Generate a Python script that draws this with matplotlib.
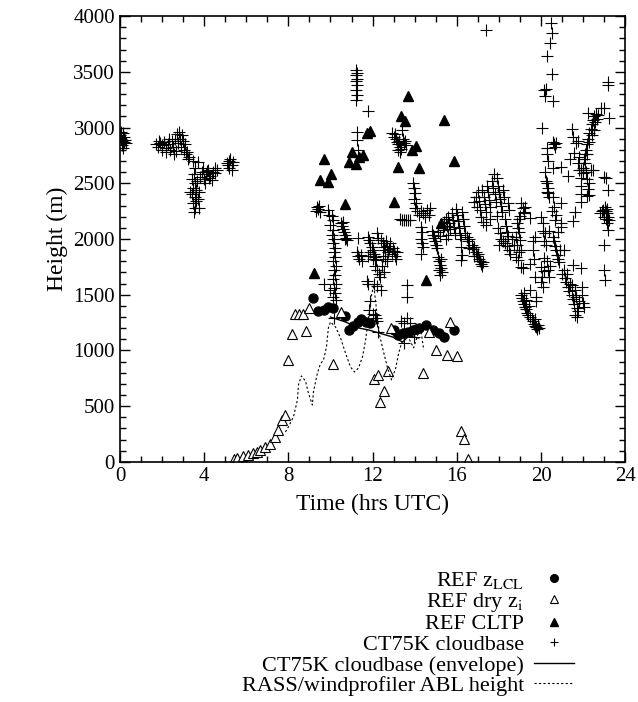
import matplotlib
matplotlib.use("Agg")
import matplotlib.pyplot as plt
import numpy as np

plt.rcParams['font.family'] = ['Liberation Serif', 'DejaVu Serif']
plt.rcParams['mathtext.fontset'] = 'stix'

# REF z_LCL (time in hrs UTC, height in m)
lcl_t = [9.19, 9.43, 9.67, 9.9, 10.1, 10.67, 10.86, 11.05, 11.29, 11.43, 11.67, 11.9,
         13.0, 13.19, 13.43, 13.67, 13.9, 14.05, 14.19, 14.52, 14.86, 15.14, 15.38, 15.86]
lcl_h = [1471, 1354, 1363, 1390, 1381, 1310, 1184, 1220, 1256, 1283, 1256, 1247,
         1184, 1139, 1157, 1166, 1184, 1193, 1202, 1229, 1184, 1157, 1121, 1184]

# REF dry z_i
dry_t = [5.40, 5.56, 5.86, 6.10, 6.33, 6.52, 6.67, 6.90, 7.14, 7.38, 7.52, 7.71, 7.86,
         8.0, 8.19, 8.33, 8.52, 8.71, 8.86, 9.0, 10.14, 10.48, 12.05, 12.24, 12.71,
         12.52, 12.33, 12.86, 14.38, 14.67, 15.0, 15.52, 16.0, 15.67, 16.19, 16.33, 16.52]
dry_h = [24, 36, 54, 63, 81, 90, 108, 135, 161, 224, 287, 377, 422,
         915, 1148, 1328, 1328, 1328, 1175, 1381, 879, 1346, 745, 780, 816,
         637, 538, 1202, 798, 1166, 1005, 960, 951, 1256, 278, 206, 27]

# REF CLTP
cltp_t = [9.21, 9.52, 9.68, 9.87, 10.03, 10.68, 10.87, 11.03, 11.19, 11.35, 11.56, 11.75,
          11.87, 13.02, 13.21, 13.37, 13.54, 13.70, 13.86, 14.05, 14.20, 14.54, 15.24,
          15.37, 15.87]
cltp_h = [1693, 2530, 2715, 2514, 2581, 2314, 2688, 2783, 2670, 2739, 2754, 2948,
          2969, 2329, 2649, 3106, 3059, 3286, 2799, 2835, 2640, 1633, 2147,
          3068, 2703]

# CT75K cloudbase envelope
env_t = [10.0, 10.71, 11.33, 11.81, 12.14, 12.95, 13.43, 13.71, 14.19]
env_h = [1300, 1256, 1202, 1184, 1166, 1121, 1076, 1130, 1112]

# RASS / windprofiler ABL height
rass_t = [7.86, 8.0, 8.24, 8.43, 8.48, 8.62, 8.81, 8.95, 9.14, 9.19, 9.38, 9.52, 9.67,
          9.81, 9.90, 10.0, 10.24, 10.48, 10.71, 10.95, 11.14, 11.33, 11.52, 11.67,
          11.76, 11.86, 11.95, 12.05, 12.19, 12.33, 12.52, 12.71, 12.90, 13.10, 13.24,
          13.38, 13.57, 13.76, 13.95, 14.14, 14.29, 14.43]
rass_h = [269, 314, 404, 556, 691, 771, 727, 619, 511, 628, 798, 879, 915,
          1032, 1202, 1256, 1211, 1112, 978, 852, 807, 843, 942, 1094,
          1229, 1363, 1498, 1588, 1363, 1139, 987, 843, 736, 843, 978,
          1067, 1130, 1094, 1023, 1139, 1184, 1005]

# CT75K cloudbase, [time, height] pairs, grouped by period
cb_morning = [
    [0.0, 2930], [0.05, 2900], [0.1, 2880], [0.15, 2950], [0.2, 2870], [0.1, 2840],
    [0.25, 2890], [0.3, 2860], [0.2, 2920], [0.05, 2960], [0.15, 2820],
    [1.7, 2850], [1.8, 2830], [1.9, 2860], [2.0, 2840], [2.1, 2870], [2.2, 2820],
    [2.3, 2850], [2.4, 2800], [2.45, 2880], [2.5, 2830], [2.6, 2900], [2.65, 2790],
    [2.7, 2940], [2.75, 2860], [2.8, 2960], [2.85, 2900], [2.9, 2830], [2.95, 2930],
    [3.0, 2880], [3.05, 2800], [3.1, 2850], [3.15, 2760], [3.2, 2780], [3.25, 2720],
    [3.3, 2740], [2.2, 2780], [2.55, 2760], [2.35, 2900], [2.0, 2800], [1.85, 2880],
    [3.45, 2700], [3.7, 2690], [3.55, 2640], [3.5, 2580], [3.4, 2540], [3.55, 2500],
    [3.45, 2460], [3.6, 2440], [3.4, 2400], [3.55, 2380], [3.6, 2340], [3.45, 2320],
    [3.55, 2280], [3.5, 2240], [3.75, 2280], [3.7, 2360], [3.35, 2420], [3.65, 2520],
    [3.75, 2420],
    [3.8, 2560], [3.9, 2600], [4.0, 2540], [4.1, 2580], [4.2, 2620], [4.3, 2570],
    [4.4, 2600], [4.5, 2640], [4.6, 2620], [4.35, 2530], [4.05, 2500], [3.95, 2640],
    [4.25, 2550], [4.5, 2590], [4.15, 2610],
    [5.1, 2680], [5.2, 2700], [5.3, 2660], [5.25, 2720], [5.35, 2690], [5.2, 2640],
    [5.3, 2620], [5.15, 2660],
]

cb_midday = [
    [9.35, 2290], [9.4, 2270], [9.3, 2250], [9.45, 2300], [9.5, 2240], [9.9, 2260],
    [9.95, 2220], [10.05, 2210], [10.1, 2170], [10.0, 2130], [10.1, 2080], [10.05, 2040],
    [10.15, 2000], [10.1, 1960], [10.2, 1920], [10.15, 1880], [10.2, 1840], [10.1, 1800],
    [10.25, 1760], [10.15, 1720], [10.2, 1680], [10.1, 1640], [10.25, 1600], [10.15, 1560],
    [10.2, 1520], [10.1, 1480], [10.25, 1450], [9.7, 1600], [10.15, 1290], [10.0, 1540],
    [10.5, 2140], [10.55, 2120], [10.6, 2090], [10.65, 2060], [10.7, 2040], [10.75, 2010],
    [10.8, 1990], [10.6, 2150], [10.7, 2000],
    [11.3, 2010], [11.25, 1880], [11.3, 1850], [11.35, 1820], [11.5, 1800], [11.45, 1860],
    [11.8, 2020], [11.85, 1990], [11.9, 1960], [11.95, 1930], [12.0, 1900], [12.05, 1870],
    [12.1, 1840], [12.2, 2050], [12.25, 2010], [12.15, 1810], [11.9, 1880], [12.0, 1820],
    [11.8, 1850], [12.1, 1760], [12.2, 1720], [12.3, 1690], [12.05, 1600], [12.4, 1540],
    [11.8, 1600], [11.9, 1440], [11.85, 1360], [12.0, 1330], [12.1, 1320], [12.2, 1260],
    [12.25, 1170], [12.15, 1290], [11.75, 1620], [12.2, 1580],
    [12.4, 1990], [12.5, 1960], [12.55, 1930], [12.6, 1900], [12.65, 1980], [12.7, 1940],
    [12.75, 1880], [12.8, 1910], [12.85, 1960], [12.9, 1870], [12.95, 1920], [13.0, 1890],
    [13.05, 1850], [13.1, 1820], [13.15, 1880], [12.5, 1850], [12.6, 1820], [12.7, 1800],
    [12.45, 1760], [12.55, 1700], [12.35, 1660],
    [11.2, 3520], [11.25, 3490], [11.2, 3470], [11.25, 3440], [11.2, 3420], [11.25, 3380],
    [11.2, 3340], [11.25, 3290], [11.2, 3250], [11.8, 3150], [11.27, 2960], [11.25, 2890],
    [11.3, 2800],
    [12.9, 2950], [13.0, 2920], [13.1, 2900], [13.15, 2870], [13.2, 2850], [13.25, 2880],
    [13.3, 2830], [13.4, 2980], [13.45, 2900], [13.5, 2860], [13.55, 2880], [13.6, 2840],
    [13.05, 2940], [13.35, 2810], [13.2, 2800], [13.3, 2780],
    [13.9, 2500], [13.95, 2460], [14.0, 2410], [13.95, 2360], [14.05, 2320], [14.0, 2280],
    [14.1, 2250], [14.2, 2220], [14.3, 2250], [14.4, 2230], [14.5, 2200], [14.6, 2260],
    [14.7, 2220], [14.75, 2280], [13.3, 2180], [13.4, 2170], [13.5, 2170], [13.6, 2170],
    [13.7, 2170], [13.8, 2170], [14.3, 2110], [14.35, 2060], [14.3, 2000], [14.35, 1960],
    [14.4, 1930], [14.3, 1870], [13.65, 1590], [13.65, 1480], [13.65, 1290], [13.5, 1250],
    [13.35, 1260], [13.5, 1070], [13.95, 1120], [13.8, 1250],
]

cb_afternoon = [
    [14.8, 2070], [14.85, 2040], [14.9, 2010], [14.95, 1980], [15.0, 1950], [15.05, 1920],
    [15.1, 2060], [15.2, 2030], [15.1, 1840], [15.15, 1800], [15.2, 1770], [15.25, 1740],
    [15.15, 1720], [15.3, 1700], [15.2, 1680], [15.25, 1820], [15.35, 2080], [15.4, 2120],
    [15.4, 2150], [15.5, 2180], [15.55, 2120], [15.6, 2200], [15.65, 2140], [15.7, 2090],
    [15.75, 2230], [15.8, 2170], [15.85, 2110], [15.9, 2050], [15.95, 2270], [16.0, 2220],
    [16.05, 2160], [16.1, 2100], [16.15, 2040], [16.2, 2000], [16.25, 2240], [16.3, 2180],
    [16.35, 2120], [15.6, 2040], [15.5, 2000], [16.2, 1930], [16.25, 1860], [16.2, 1810],
    [16.4, 2050], [16.5, 2020], [16.55, 1980], [16.6, 2000], [16.7, 1950], [16.75, 1910],
    [16.8, 1930], [16.9, 1880], [16.95, 1850], [17.0, 1870], [17.05, 1820], [17.1, 1800],
    [17.15, 1780], [17.2, 1760], [17.25, 1790], [16.6, 1920], [16.8, 1850],
    [16.8, 2330], [16.9, 2380], [16.95, 2290], [17.0, 2420], [17.05, 2340], [17.1, 2260],
    [17.15, 2200], [17.2, 2440], [17.3, 2380], [17.35, 2310], [17.4, 2240], [17.45, 2480],
    [17.5, 2420], [17.55, 2350], [17.6, 2290], [17.65, 2520], [17.7, 2460], [17.75, 2580],
    [17.8, 2400], [17.85, 2330], [17.9, 2550], [17.95, 2480], [18.0, 2420], [18.05, 2360],
    [18.1, 2300], [18.15, 2240], [18.2, 2440], [18.25, 2380], [18.3, 2180], [18.35, 2120],
    [18.4, 2060], [18.45, 2320], [18.5, 2260], [17.25, 2150], [17.6, 2180], [17.9, 2210],
    [17.4, 2130], [17.38, 3880],
    [17.95, 2100], [18.05, 2050], [18.1, 2000], [18.2, 1980], [18.3, 1960], [18.4, 1940],
    [18.5, 1900], [18.55, 1870], [18.6, 2000], [18.7, 1950], [18.8, 1840], [18.9, 1810],
    [18.0, 1950], [18.45, 2030],
]

cb_evening = [
    [19.05, 2320], [19.15, 2280], [19.2, 2240], [19.0, 2210], [18.95, 2180], [18.85, 2140],
    [18.9, 2100], [18.95, 2060], [18.8, 2020], [19.0, 1990], [18.85, 1950], [19.05, 1900],
    [18.95, 1880], [19.25, 2290], [19.2, 2230], [19.05, 1750],
    [19.05, 1500], [19.1, 1470], [19.15, 1440], [19.2, 1420], [19.25, 1390], [19.3, 1370],
    [19.35, 1340], [19.4, 1320], [19.5, 1300], [19.55, 1280], [19.6, 1260], [19.65, 1240],
    [19.7, 1220], [19.75, 1210], [19.8, 1190], [19.85, 1230], [19.9, 1200], [19.7, 1280],
    [19.45, 1400], [19.3, 1450], [19.2, 1520], [19.15, 1740],
    [19.5, 2190], [20.0, 2200], [20.1, 2140], [20.1, 2070], [19.6, 1980], [19.6, 1900],
    [19.5, 1780], [20.15, 1980], [20.15, 1830], [20.15, 1710], [20.05, 1660], [20.0, 1610],
    [19.7, 1660], [19.5, 1540], [19.75, 1480], [19.75, 1440], [20.1, 1570], [20.0, 1750],
    [19.7, 2020], [19.65, 1820],
    [20.3, 2500], [20.35, 2460], [20.3, 2420], [20.4, 2380], [20.55, 2380], [20.5, 2250],
    [20.4, 2070], [20.65, 2170], [20.95, 2140], [20.6, 2290], [20.7, 2220], [20.8, 2060],
    [20.55, 2020], [20.6, 1980], [20.65, 1940], [20.7, 1900], [20.75, 1860], [20.8, 1820],
    [20.85, 1790], [20.9, 1900], [20.3, 1800], [20.35, 1720], [20.4, 1660], [20.25, 1950],
    [20.45, 1760], [20.2, 2050], [20.95, 2320], [20.95, 2110],
    [21.0, 1690], [21.1, 1720], [21.15, 1650], [21.2, 1610], [21.25, 1690], [21.3, 1570],
    [21.35, 1530], [21.4, 1600], [21.45, 1500], [21.5, 1770], [21.5, 1460], [21.55, 1420],
    [21.6, 1540], [21.65, 1480], [21.7, 1380], [21.75, 1350], [21.8, 1440], [21.9, 1740],
    [21.95, 1570], [21.95, 1500], [22.0, 1430], [22.05, 1390], [21.6, 1320], [21.7, 1300],
    [21.45, 1590], [21.1, 1900], [21.6, 2245], [21.5, 2160],
    [20.48, 3940], [20.5, 3850], [20.45, 3760], [20.3, 3640], [20.5, 3480], [20.25, 3350],
    [20.15, 3340], [20.2, 3280], [20.55, 3240], [20.05, 3000], [20.6, 2850], [20.65, 2830],
    [20.55, 2870], [20.7, 2860], [20.3, 2820], [20.3, 2760], [20.35, 2700], [20.55, 2640],
    [20.95, 2650], [20.2, 2600], [20.25, 2520], [20.35, 2410],
    [21.45, 2990], [21.5, 2920], [21.65, 2860], [21.55, 2770], [21.4, 2720], [21.75, 2680],
    [21.8, 2620], [21.98, 2590], [22.46, 2620], [21.27, 2565], [21.75, 2880], [21.8, 2740],
    [21.9, 2620], [21.9, 2550], [21.9, 2480], [21.9, 2400], [21.9, 2330], [22.3, 2395],
    [22.38, 2620],
    [22.05, 2720], [22.1, 2760], [22.15, 2800], [22.1, 2680], [22.2, 2850], [22.25, 2900],
    [22.2, 2760], [22.3, 2950], [22.35, 2990], [22.3, 2870], [22.4, 3030], [22.45, 3070],
    [22.4, 2930], [22.5, 3100], [22.55, 3050], [22.6, 3120], [22.65, 3080], [22.7, 3110],
    [22.5, 2980], [22.25, 3130], [22.85, 3180], [22.0, 2640], [22.15, 2600], [22.2, 2540],
    [22.3, 2500], [22.25, 2450], [22.2, 2390],
    [23.24, 3090], [23.17, 3410], [23.2, 3380], [22.98, 3180], [23.0, 2560], [23.1, 2545],
    [23.17, 2440], [23.05, 2290], [23.1, 2250], [23.15, 2230], [23.2, 2200], [22.95, 2260],
    [23.25, 2170], [23.0, 2200], [23.15, 2270], [23.1, 2180], [23.2, 2080], [23.0, 1950],
    [23.0, 1720], [23.05, 1630], [22.9, 2250], [22.78, 2230], [23.15, 2140],
]

cb = np.array(cb_morning + cb_midday + cb_afternoon + cb_evening)

fig = plt.figure(figsize=(6.38, 7.02), dpi=100)
ax = fig.add_axes([0.188, 0.342, 0.792, 0.635])

ax.plot(lcl_t, lcl_h, 'o', color='black', ms=6.5, label=r'REF z$_{\mathrm{LCL}}$')
ax.plot(dry_t, dry_h, '^', mfc='white', mec='black', mew=0.8, ms=6.5,
        label=r'REF dry z$_{\mathrm{i}}$')
ax.plot(cltp_t, cltp_h, '^', color='black', ms=6.5, label='REF CLTP')
ax.plot(cb[:, 0], cb[:, 1], '+', color='black', ms=8, mew=0.8, label='CT75K cloudbase')
ax.plot(env_t, env_h, '-', color='black', lw=1.0, label='CT75K cloudbase (envelope)')
ax.plot(rass_t, rass_h, color='black', lw=0.8, ls=(0, (2, 2)),
        label='RASS/windprofiler ABL height')

ax.set_xlim(0, 24)
ax.set_ylim(0, 4000)
ax.set_xticks(np.arange(0, 25, 4))
ax.set_xticks(np.arange(0, 25, 1), minor=True)
ax.set_yticks(np.arange(0, 4001, 500))
ax.set_yticks(np.arange(0, 4001, 100), minor=True)
ax.tick_params(which='both', direction='in', top=True, right=True, labelsize=15)
ax.tick_params(which='major', length=7, width=1)
ax.tick_params(which='minor', length=4, width=1)
for s in ax.spines.values():
    s.set_linewidth(1.2)
ax.set_xlabel('Time (hrs UTC)', fontsize=17, labelpad=6)
ax.set_ylabel('Height (m)', fontsize=17)

leg = fig.legend(loc='upper right', bbox_to_anchor=(0.917, 0.204), frameon=False,
                 markerfirst=False, fontsize=16, handlelength=1.8, labelspacing=0.0,
                 borderpad=0, handletextpad=0.45)
for h in leg.legend_handles:
    if h.get_marker() in ('o', '^', '+'):
        h.set_markersize(5.5)

fig.savefig('out.png', dpi=100)
